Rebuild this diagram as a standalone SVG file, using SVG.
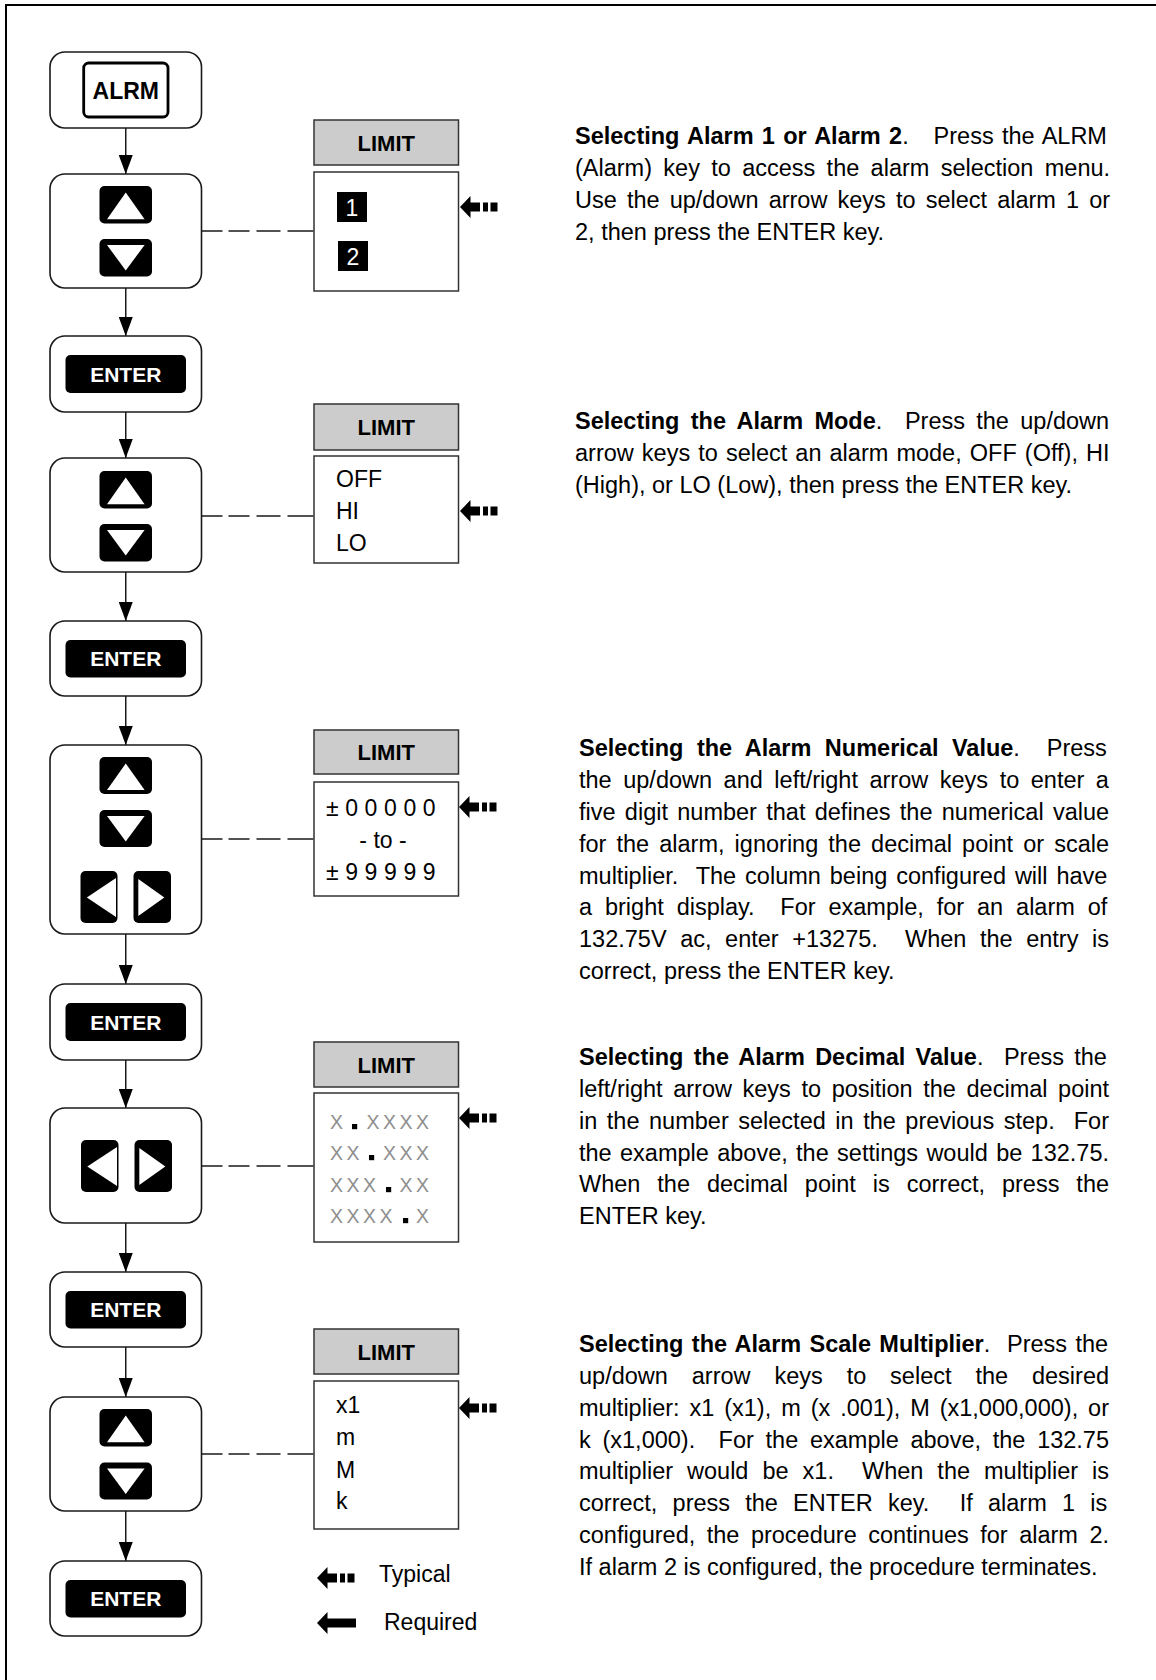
<svg xmlns="http://www.w3.org/2000/svg" xmlns:xlink="http://www.w3.org/1999/xlink" width="1156" height="1680" viewBox="0 0 1156 1680">
<style>
.node{fill:#fff;stroke:#1a1a1a;stroke-width:1.6}
.key{fill:#000}
.tri{fill:#fff}
.hdr{fill:#cccccc;stroke:#333;stroke-width:1.5}
.box{fill:#fff;stroke:#333;stroke-width:1.5}
.conn line{stroke:#1a1a1a;stroke-width:1.5;fill:none}
.dash{stroke-dasharray:21 6 21 7 24 7 26}
text{font-family:"Liberation Sans",Arial,Helvetica,sans-serif;fill:#000}
.hdrt{font-size:22px;font-weight:bold;text-anchor:middle}
.keyt{font-size:21px;font-weight:bold;fill:#fff;text-anchor:middle}
.alrm{font-size:23px;font-weight:bold;text-anchor:middle}
.opt{font-size:22px}
.big{font-size:23px}
.num{font-size:23px;fill:#fff;text-anchor:middle}
.xg{font-size:19.5px;fill:#8f8f8f}
.para{font-size:23.5px;white-space:pre}
.leg{font-size:23px}
</style>
<defs>
<marker id="ah" markerUnits="userSpaceOnUse" markerWidth="19" markerHeight="14" viewBox="0 0 19 14" refX="19" refY="7" orient="auto"><path d="M0,0 L19,7 L0,14 Z" fill="#000"/></marker>
<g id="typ"><path d="M0,0 L10.5,-11 L10.5,-4.5 L20,-4.5 L20,4.5 L10.5,4.5 L10.5,11 Z"/><rect x="23" y="-4.5" width="5" height="9"/><rect x="30.5" y="-4.5" width="7" height="9"/></g>
<g id="req"><path d="M0,0 L10.5,-11 L10.5,-4.5 L39,-4.5 L39,4.5 L10.5,4.5 L10.5,11 Z"/></g>
</defs>
<rect width="1156" height="1680" fill="#fff"/>
<path d="M6,1680 V5 H1156" fill="none" stroke="#000" stroke-width="2"/>

<g id="connectors" class="conn">
<line x1="125.75" y1="128" x2="125.75" y2="174" marker-end="url(#ah)"/>
<line x1="125.75" y1="288" x2="125.75" y2="336" marker-end="url(#ah)"/>
<line x1="125.75" y1="412" x2="125.75" y2="458" marker-end="url(#ah)"/>
<line x1="125.75" y1="572" x2="125.75" y2="621" marker-end="url(#ah)"/>
<line x1="125.75" y1="696" x2="125.75" y2="745" marker-end="url(#ah)"/>
<line x1="125.75" y1="934" x2="125.75" y2="984" marker-end="url(#ah)"/>
<line x1="125.75" y1="1060" x2="125.75" y2="1108" marker-end="url(#ah)"/>
<line x1="125.75" y1="1223" x2="125.75" y2="1272" marker-end="url(#ah)"/>
<line x1="125.75" y1="1347" x2="125.75" y2="1397" marker-end="url(#ah)"/>
<line x1="125.75" y1="1511" x2="125.75" y2="1561" marker-end="url(#ah)"/>
<line class="dash" x1="201.5" y1="231" x2="314" y2="231"/>
<line class="dash" x1="201.5" y1="516" x2="314" y2="516"/>
<line class="dash" x1="201.5" y1="839" x2="314" y2="839"/>
<line class="dash" x1="201.5" y1="1166" x2="314" y2="1166"/>
<line class="dash" x1="201.5" y1="1454" x2="314" y2="1454"/>
</g>

<g id="n-alrm">
<rect class="node" x="50" y="52" width="151.5" height="76" rx="15"/>
<rect x="83.7" y="63" width="84.3" height="54" rx="5" fill="#fff" stroke="#000" stroke-width="2.8"/>
<text class="alrm" x="125.75" y="99">ALRM</text>
</g>

<g id="n-updown1">
<rect class="node" x="50" y="174" width="151.5" height="114" rx="15"/>
<rect class="key" x="99.5" y="186" width="52.5" height="37.5" rx="5"/>
<path class="tri" d="M125.75,192.5 L144.6,219.3 L107,219.3 Z"/>
<rect class="key" x="99.5" y="239" width="52.5" height="37.5" rx="5"/>
<path class="tri" d="M107,245 L144.6,245 L125.75,270.5 Z"/>
</g>

<g id="n-enter1">
<rect class="node" x="50" y="336" width="151.5" height="76" rx="15"/>
<rect class="key" x="65.5" y="355" width="120.5" height="38" rx="5"/>
<text class="keyt" x="125.75" y="381.5">ENTER</text>
</g>

<g id="n-updown2">
<rect class="node" x="50" y="458" width="151.5" height="114" rx="15"/>
<rect class="key" x="99.5" y="471" width="52.5" height="37.5" rx="5"/>
<path class="tri" d="M125.75,477.5 L144.6,504.3 L107,504.3 Z"/>
<rect class="key" x="99.5" y="524" width="52.5" height="37.5" rx="5"/>
<path class="tri" d="M107,530 L144.6,530 L125.75,555.5 Z"/>
</g>

<g id="n-enter2">
<rect class="node" x="50" y="621" width="151.5" height="75" rx="15"/>
<rect class="key" x="65.5" y="640" width="120.5" height="37.5" rx="5"/>
<text class="keyt" x="125.75" y="666">ENTER</text>
</g>

<g id="n-fourkey">
<rect class="node" x="50" y="745" width="151.5" height="189" rx="15"/>
<rect class="key" x="99.5" y="757" width="52.5" height="37" rx="5"/>
<path class="tri" d="M125.75,763.5 L144.6,790 L107,790 Z"/>
<rect class="key" x="99.5" y="810" width="52.5" height="37" rx="5"/>
<path class="tri" d="M107,816 L144.6,816 L125.75,841.5 Z"/>
<rect class="key" x="80.5" y="871" width="37" height="52" rx="5"/>
<path class="tri" d="M86.8,897.5 L116,878 L116,917 Z"/>
<rect class="key" x="133.5" y="871" width="37.5" height="52" rx="5"/>
<path class="tri" d="M138.3,879 L164.3,897.5 L138.3,916 Z"/>
</g>

<g id="n-enter3">
<rect class="node" x="50" y="984" width="151.5" height="76" rx="15"/>
<rect class="key" x="65.5" y="1003" width="120.5" height="38" rx="5"/>
<text class="keyt" x="125.75" y="1029.5">ENTER</text>
</g>

<g id="n-leftright">
<rect class="node" x="50" y="1108" width="151.5" height="115" rx="15"/>
<rect class="key" x="81" y="1140" width="37.5" height="52" rx="5"/>
<path class="tri" d="M87.3,1166.5 L117,1147 L117,1186 Z"/>
<rect class="key" x="134.5" y="1140" width="37.5" height="52" rx="5"/>
<path class="tri" d="M139.3,1148 L165.3,1166.5 L139.3,1185 Z"/>
</g>

<g id="n-enter4">
<rect class="node" x="50" y="1272" width="151.5" height="75" rx="15"/>
<rect class="key" x="65.5" y="1291" width="120.5" height="37.5" rx="5"/>
<text class="keyt" x="125.75" y="1317">ENTER</text>
</g>

<g id="n-updown3">
<rect class="node" x="50" y="1397" width="151.5" height="114" rx="15"/>
<rect class="key" x="99.5" y="1409" width="52.5" height="37.5" rx="5"/>
<path class="tri" d="M125.75,1415.5 L144.6,1442.3 L107,1442.3 Z"/>
<rect class="key" x="99.5" y="1462.5" width="52.5" height="37" rx="5"/>
<path class="tri" d="M107,1468.5 L144.6,1468.5 L125.75,1494 Z"/>
</g>

<g id="n-enter5">
<rect class="node" x="50" y="1561" width="151.5" height="75" rx="15"/>
<rect class="key" x="65.5" y="1580" width="120.5" height="37.5" rx="5"/>
<text class="keyt" x="125.75" y="1606">ENTER</text>
</g>

<g id="limit-alarm">
<rect class="hdr" x="314" y="120" width="144.5" height="45"/>
<text class="hdrt" x="386.25" y="150.5">LIMIT</text>
<rect class="box" x="314" y="172" width="144.5" height="119"/>
<rect x="337" y="192" width="30" height="30" fill="#000"/>
<text class="num" x="352" y="215.5">1</text>
<rect x="338" y="241" width="30" height="30" fill="#000"/>
<text class="num" x="353" y="264.5">2</text>
<use xlink:href="#typ" x="460" y="207"/>
</g>

<g id="limit-mode">
<rect class="hdr" x="314" y="404" width="144.5" height="46"/>
<text class="hdrt" x="386.25" y="435">LIMIT</text>
<rect class="box" x="314" y="456" width="144.5" height="107"/>
<text class="big" x="336" y="487">OFF</text>
<text class="big" x="336" y="519">HI</text>
<text class="big" x="336" y="551">LO</text>
<use xlink:href="#typ" x="460" y="511"/>
</g>

<g id="limit-value">
<rect class="hdr" x="314" y="730" width="144.5" height="44"/>
<text class="hdrt" x="386.25" y="760">LIMIT</text>
<rect class="box" x="314" y="782" width="144.5" height="114"/>
<text class="big" x="326" y="816" letter-spacing="6.6">±00000</text>
<text class="big" x="383" y="847.5" text-anchor="middle">- to -</text>
<text class="big" x="326" y="880" letter-spacing="6.6">±99999</text>
<use xlink:href="#typ" x="459" y="807"/>
</g>

<g id="limit-decimal">
<rect class="hdr" x="314" y="1042" width="144.5" height="45"/>
<text class="hdrt" x="386.25" y="1072.5">LIMIT</text>
<rect class="box" x="314" y="1093" width="144.5" height="149"/>
<text class="xg" x="330 366.5 383 399.5 416" y="1129">XXXXX</text>
<rect x="352" y="1124" width="5.2" height="5.2" fill="#000"/>
<text class="xg" x="330 346.5 383 399.5 416" y="1160">XXXXX</text>
<rect x="369" y="1155" width="5.2" height="5.2" fill="#000"/>
<text class="xg" x="330 346.5 363 399.5 416" y="1192">XXXXX</text>
<rect x="386" y="1187" width="5.2" height="5.2" fill="#000"/>
<text class="xg" x="330 346.5 363 379.5 416" y="1223">XXXXX</text>
<rect x="403" y="1218" width="5.2" height="5.2" fill="#000"/>
<use xlink:href="#typ" x="459" y="1118"/>
</g>

<g id="limit-multiplier">
<rect class="hdr" x="314" y="1329" width="144.5" height="45"/>
<text class="hdrt" x="386.25" y="1359.5">LIMIT</text>
<rect class="box" x="314" y="1381" width="144.5" height="148"/>
<text class="big" x="336" y="1413">x1</text>
<text class="big" x="336" y="1445">m</text>
<text class="big" x="336" y="1477.5">M</text>
<text class="big" x="336" y="1508.5">k</text>
<use xlink:href="#typ" x="459" y="1408"/>
</g>

<g id="legend">
<use xlink:href="#typ" x="317" y="1578"/>
<text class="leg" x="379" y="1582">Typical</text>
<use xlink:href="#req" x="317" y="1623"/>
<text class="leg" x="384" y="1630">Required</text>
</g>

<g id="descriptions" class="para">
<text class="para" x="575" y="144" word-spacing="1.78"><tspan font-weight="bold">Selecting Alarm 1 or Alarm 2</tspan>.   Press the ALRM</text>
<text class="para" x="575" y="176" word-spacing="4.79">(Alarm) key to access the alarm selection menu.</text>
<text class="para" x="575" y="208" word-spacing="3.58">Use the up/down arrow keys to select alarm 1 or</text>
<text class="para" x="575" y="240">2, then press the ENTER key.</text>

<text class="para" x="575" y="429" word-spacing="4.78"><tspan font-weight="bold">Selecting the Alarm Mode</tspan>.  Press the up/down</text>
<text class="para" x="575" y="461" word-spacing="1.54">arrow keys to select an alarm mode, OFF (Off), HI</text>
<text class="para" x="575" y="493">(High), or LO (Low), then press the ENTER key.</text>

<text class="para" x="579" y="756" word-spacing="6.93"><tspan font-weight="bold">Selecting the Alarm Numerical Value</tspan>.  Press</text>
<text class="para" x="579" y="788" word-spacing="5.01">the up/down and left/right arrow keys to enter a</text>
<text class="para" x="579" y="820" word-spacing="2.76">five digit number that defines the numerical value</text>
<text class="para" x="579" y="852" word-spacing="3.55">for the alarm, ignoring the decimal point or scale</text>
<text class="para" x="579" y="883.5" word-spacing="2.4">multiplier.  The column being configured will have</text>
<text class="para" x="579" y="915" word-spacing="6.36">a bright display.  For example, for an alarm of</text>
<text class="para" x="579" y="947" word-spacing="7.05">132.75V ac, enter +13275.  When the entry is</text>
<text class="para" x="579" y="979">correct, press the ENTER key.</text>

<text class="para" x="579" y="1065" word-spacing="3.7"><tspan font-weight="bold">Selecting the Alarm Decimal Value</tspan>.  Press the</text>
<text class="para" x="579" y="1097" word-spacing="4.07">left/right arrow keys to position the decimal point</text>
<text class="para" x="579" y="1129" word-spacing="3.01">in the number selected in the previous step.  For</text>
<text class="para" x="579" y="1160.5" word-spacing="1.81">the example above, the settings would be 132.75.</text>
<text class="para" x="579" y="1192" word-spacing="10.41">When the decimal point is correct, press the</text>
<text class="para" x="579" y="1224">ENTER key.</text>

<text class="para" x="579" y="1352" word-spacing="1.83"><tspan font-weight="bold">Selecting the Alarm Scale Multiplier</tspan>.  Press the</text>
<text class="para" x="579" y="1384" word-spacing="17.37">up/down arrow keys to select the desired</text>
<text class="para" x="579" y="1416" word-spacing="3.4">multiplier: x1 (x1), m (x .001), M (x1,000,000), or</text>
<text class="para" x="579" y="1447.5" word-spacing="5.18">k (x1,000).  For the example above, the 132.75</text>
<text class="para" x="579" y="1479" word-spacing="7.48">multiplier would be x1.  When the multiplier is</text>
<text class="para" x="579" y="1511" word-spacing="8.68">correct, press the ENTER key.  If alarm 1 is</text>
<text class="para" x="579" y="1543" word-spacing="4.95">configured, the procedure continues for alarm 2.</text>
<text class="para" x="579" y="1575">If alarm 2 is configured, the procedure terminates.</text>
</g>
</svg>
